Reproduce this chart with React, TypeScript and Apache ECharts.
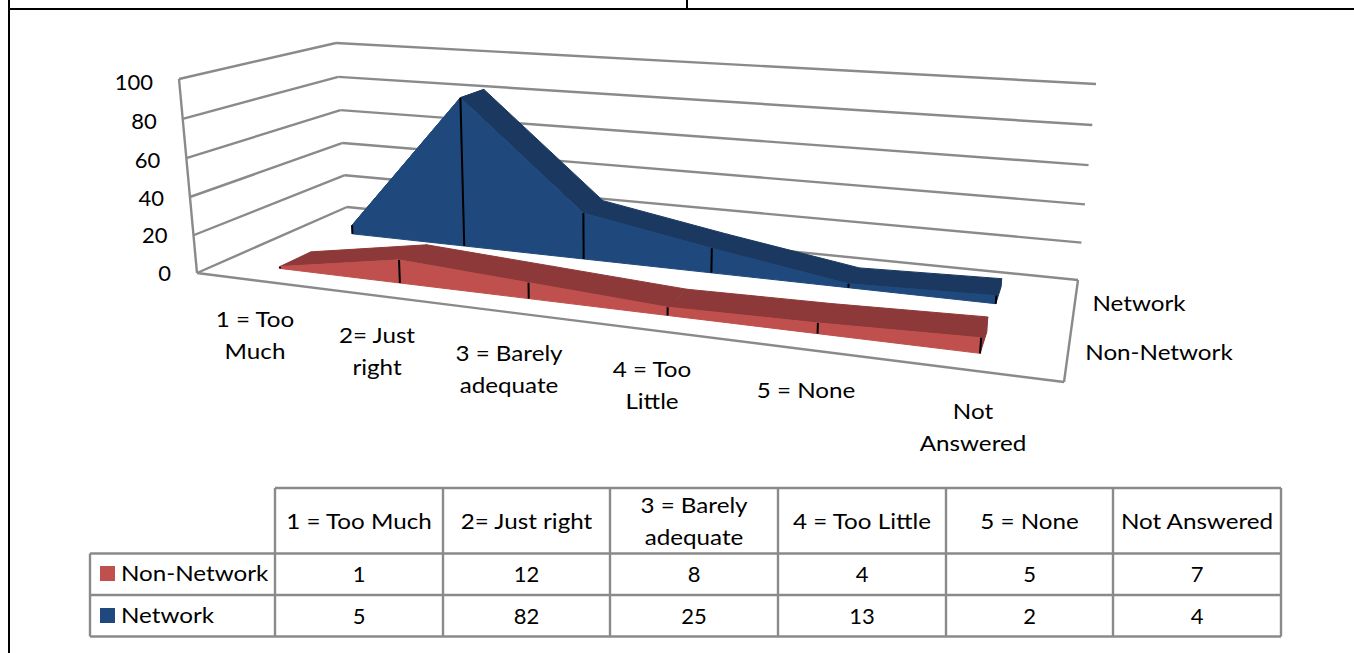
import React, { useEffect, useRef } from "react";
import * as echarts from "echarts";

const categories = ["1 = Too Much", "2= Just right", "3 = Barely adequate", "4 = Too Little", "5 = None", "Not Answered"];
const axisCategoryLabels = ["1 = Too\nMuch", "2= Just\nright", "3 = Barely\nadequate", "4 = Too\nLittle", "5 = None", "Not\nAnswered"];
const tableHeaderLabels = ["1 = Too Much", "2= Just right", "3 = Barely\nadequate", "4 = Too Little", "5 = None", "Not Answered"];
const nonNetwork = [1, 12, 8, 4, 5, 7];
const network = [5, 82, 25, 13, 2, 4];
const yTicks = [0, 20, 40, 60, 80, 100];

const FONT = "Lato, 'Open Sans', sans-serif";
const FONT_SIZE = 22;
const GRID = "#8A8A8A";
const GRID_WIDTH = 2.4;

// Perspective projection of (u along categories, w in depth, v in height) to the page.
function project(u: number, w: number, v: number): [number, number] {
  const den = -0.21 * u + 0.1902 * w - 0.0325 * v + 1;
  return [
    (643.6 * u + 216 * w - 20 * v + 197) / den,
    (28.8 * u - 26.6 * w - 196.6 * v + 273) / den,
  ];
}

function faceRenderer(frontW: number, backW: number, faceColor: string, topColor: string) {
  return (params: any, api: any) => {
    const i = params.dataIndex;
    const cs = params.coordSys;
    const toUV = (idx: number) => {
      const p = api.coord([idx, api.value(1, idx)]);
      return [(p[0] - cs.x) / cs.width, (cs.y + cs.height - p[1]) / cs.height];
    };
    const [u, v] = toUV(i);
    const children: any[] = [];
    const poly = (points: number[][], fill: string) => ({
      type: "polygon",
      shape: { points },
      style: { fill, stroke: fill, lineWidth: 1 },
    });
    if (i < params.dataInsideLength - 1) {
      const [u2, v2] = toUV(i + 1);
      children.push(
        poly([project(u, frontW, v), project(u, backW, v), project(u2, backW, v2), project(u2, frontW, v2)], topColor),
        poly([project(u, frontW, 0), project(u, frontW, v), project(u2, frontW, v2), project(u2, frontW, 0)], faceColor)
      );
    } else {
      children.push(
        poly([project(u, frontW, 0), project(u, frontW, v), project(u, backW, v), project(u, backW, 0)], topColor)
      );
    }
    const a = project(u, frontW, 0);
    const b = project(u, frontW, v);
    children.push({
      type: "line",
      shape: { x1: a[0], y1: a[1], x2: b[0], y2: b[1] },
      style: { stroke: "#000000", lineWidth: 2 },
    });
    return { type: "group", children };
  };
}

function line(x1: number, y1: number, x2: number, y2: number, stroke = GRID, lineWidth = GRID_WIDTH, z = 0) {
  return { type: "line", z, silent: true, shape: { x1, y1, x2, y2 }, style: { stroke, lineWidth } };
}

function label(text: string, x: number, y: number, align = "center", scaleX = 1.1) {
  return {
    type: "text",
    z: 5,
    silent: true,
    x,
    y,
    scaleX,
    style: {
      text,
      fill: "#000000",
      font: `${FONT_SIZE}px ${FONT}`,
      align,
      verticalAlign: "middle",
      lineHeight: 32,
    },
  };
}

type Corner = { b: number[]; t: number[]; c: number };
const cornerAt = (k: Corner, value: number) => {
  const v = value / 100;
  const t = v / (1 + k.c * (1 - v));
  return [k.b[0] + (k.t[0] - k.b[0]) * t, k.b[1] + (k.t[1] - k.b[1]) * t];
};

function buildGraphic() {
  const els: any[] = [];
  // page borders
  els.push(line(9, 0, 9, 653, "#000000", 2));
  els.push(line(8, 9, 1354, 9, "#000000", 2));
  els.push(line(687, 0, 687, 9, "#000000", 2));

  // 3D frame
  const FL: Corner = { b: [197, 273], t: [179, 79], c: 0.035 };
  const BL: Corner = { b: [347, 207], t: [336, 43], c: 0.04 };
  const BR: Corner = { b: [1078, 280], t: [1096, 84], c: 0.06 };
  const FR = [1064, 382];
  yTicks.forEach((tick) => {
    const a = cornerAt(FL, tick);
    const b = cornerAt(BL, tick);
    const c = cornerAt(BR, tick);
    els.push(line(a[0], a[1], b[0], b[1]));
    els.push(line(b[0], b[1], c[0], c[1]));
  });
  els.push(line(FL.b[0], FL.b[1], FL.t[0], FL.t[1]));
  els.push(line(FL.b[0], FL.b[1], FR[0], FR[1]));
  els.push(line(FR[0], FR[1], BR.b[0], BR.b[1]));

  // y tick labels follow the slanted wall
  yTicks.forEach((tick) => {
    const p = cornerAt(FL, tick);
    els.push(label(String(tick), p[0] - 26, p[1] - 1 + (3 * tick) / 100, "right", 1));
  });

  // category labels
  const catX = [255, 377, 509, 652, 806, 973];
  const catY = [334, 350, 368, 384, 389, 426];
  axisCategoryLabels.forEach((t, i) => els.push(label(t, catX[i], catY[i])));

  // series names
  els.push(label("Network", 1139, 302));
  els.push(label("Non-Network", 1159, 351));

  // data table
  const colX = [275, 443, 610, 778, 946, 1113, 1281];
  const rowY = [488, 553.5, 595, 636.5];
  els.push(line(90, rowY[1], 1281, rowY[1]));
  els.push(line(90, rowY[2], 1281, rowY[2]));
  els.push(line(90, rowY[3], 1281, rowY[3]));
  els.push(line(275, rowY[0], 1281, rowY[0]));
  els.push(line(90, rowY[1], 90, rowY[3]));
  colX.forEach((x) => els.push(line(x, rowY[0], x, rowY[3])));
  tableHeaderLabels.forEach((t, i) => {
    const cx = (colX[i] + colX[i + 1]) / 2;
    els.push(label(t, cx, 520));
    els.push(label(String(nonNetwork[i]), cx, 573.5, "center", 1));
    els.push(label(String(network[i]), cx, 615, "center", 1));
  });
  els.push(label("Non-Network", 121, 572.5, "left"));
  els.push(label("Network", 121, 614.5, "left"));
  els.push({ type: "rect", z: 5, silent: true, shape: { x: 100, y: 566, width: 15, height: 15 }, style: { fill: "#C0504D" } });
  els.push({ type: "rect", z: 5, silent: true, shape: { x: 100, y: 608, width: 15, height: 15 }, style: { fill: "#1F497D" } });
  return els;
}

export default function App() {
  const ref = useRef<HTMLDivElement>(null);
  useEffect(() => {
    const chart = echarts.init(ref.current!, null, { renderer: "svg" });
    chart.setOption({
      animation: false,
      backgroundColor: "#ffffff",
      grid: { left: 100, top: 100, width: 600, height: 100, show: false },
      xAxis: { type: "category", data: categories, show: false },
      yAxis: { type: "value", min: 0, max: 100, interval: 20, show: false },
      graphic: { elements: buildGraphic() },
      series: [
        {
          name: "Network",
          type: "custom",
          z: 2,
          silent: true,
          encode: { x: 0, y: 1 },
          data: network.map((v, i) => [i, v]),
          renderItem: faceRenderer(0.642, 0.84, "#1F497D", "#1A3860"),
        },
        {
          name: "Non-Network",
          type: "custom",
          z: 3,
          silent: true,
          encode: { x: 0, y: 1 },
          data: nonNetwork.map((v, i) => [i, v]),
          renderItem: faceRenderer(0.15, 0.35, "#C0504D", "#8E3939"),
        },
      ],
    });
    return () => chart.dispose();
  }, []);
  return <div ref={ref} style={{ position: "fixed", left: 0, top: 0, width: 1354, height: 653 }} />;
}
